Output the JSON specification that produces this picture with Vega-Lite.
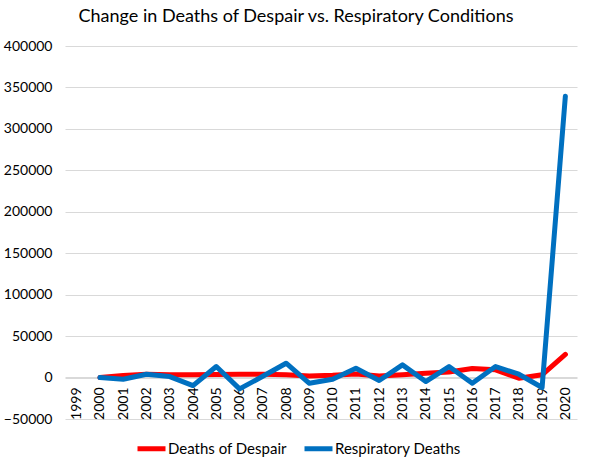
{
  "$schema": "https://vega.github.io/schema/vega-lite/v6.json",
  "autosize": {"type": "none"},
  "width": 512,
  "height": 373,
  "padding": {"left": 65, "top": 46, "right": 14, "bottom": 44},
  "background": "white",
  "title": {
    "text": "Change in Deaths of Despair vs. Respiratory Conditions",
    "font": "Lato",
    "fontSize": 18,
    "fontWeight": "normal",
    "color": "black",
    "anchor": "middle",
    "dx": -25,
    "offset": 13
  },
  "config": {
    "view": {"stroke": null},
    "axis": {"labelFont": "Lato", "labelFontSize": 14, "labelColor": "black"}
  },
  "data": {
    "values": [
      {"year": "2000", "series": "Deaths of Despair", "value": 0},
      {"year": "2001", "series": "Deaths of Despair", "value": 2400},
      {"year": "2002", "series": "Deaths of Despair", "value": 4000},
      {"year": "2003", "series": "Deaths of Despair", "value": 3300},
      {"year": "2004", "series": "Deaths of Despair", "value": 3300},
      {"year": "2005", "series": "Deaths of Despair", "value": 3600},
      {"year": "2006", "series": "Deaths of Despair", "value": 4000},
      {"year": "2007", "series": "Deaths of Despair", "value": 4000},
      {"year": "2008", "series": "Deaths of Despair", "value": 3300},
      {"year": "2009", "series": "Deaths of Despair", "value": 2000},
      {"year": "2010", "series": "Deaths of Despair", "value": 2800},
      {"year": "2011", "series": "Deaths of Despair", "value": 4400},
      {"year": "2012", "series": "Deaths of Despair", "value": 2000},
      {"year": "2013", "series": "Deaths of Despair", "value": 3300},
      {"year": "2014", "series": "Deaths of Despair", "value": 5200},
      {"year": "2015", "series": "Deaths of Despair", "value": 6800},
      {"year": "2016", "series": "Deaths of Despair", "value": 10900},
      {"year": "2017", "series": "Deaths of Despair", "value": 9300},
      {"year": "2018", "series": "Deaths of Despair", "value": -800},
      {"year": "2019", "series": "Deaths of Despair", "value": 3300},
      {"year": "2020", "series": "Deaths of Despair", "value": 28000},
      {"year": "2000", "series": "Respiratory Deaths", "value": 0},
      {"year": "2001", "series": "Respiratory Deaths", "value": -2000},
      {"year": "2002", "series": "Respiratory Deaths", "value": 4000},
      {"year": "2003", "series": "Respiratory Deaths", "value": 1200},
      {"year": "2004", "series": "Respiratory Deaths", "value": -9700},
      {"year": "2005", "series": "Respiratory Deaths", "value": 13300},
      {"year": "2006", "series": "Respiratory Deaths", "value": -13700},
      {"year": "2007", "series": "Respiratory Deaths", "value": 1500},
      {"year": "2008", "series": "Respiratory Deaths", "value": 17300},
      {"year": "2009", "series": "Respiratory Deaths", "value": -6900},
      {"year": "2010", "series": "Respiratory Deaths", "value": -2000},
      {"year": "2011", "series": "Respiratory Deaths", "value": 11300},
      {"year": "2012", "series": "Respiratory Deaths", "value": -3600},
      {"year": "2013", "series": "Respiratory Deaths", "value": 15300},
      {"year": "2014", "series": "Respiratory Deaths", "value": -4800},
      {"year": "2015", "series": "Respiratory Deaths", "value": 13300},
      {"year": "2016", "series": "Respiratory Deaths", "value": -6900},
      {"year": "2017", "series": "Respiratory Deaths", "value": 13300},
      {"year": "2018", "series": "Respiratory Deaths", "value": 4000},
      {"year": "2019", "series": "Respiratory Deaths", "value": -12000},
      {"year": "2020", "series": "Respiratory Deaths", "value": 339500}
    ]
  },
  "mark": {"type": "line", "strokeWidth": 5, "strokeCap": "round", "strokeJoin": "round"},
  "encoding": {
    "x": {
      "field": "year",
      "type": "ordinal",
      "title": null,
      "scale": {
        "type": "point",
        "padding": 0.5,
        "domain": ["1999", "2000", "2001", "2002", "2003", "2004", "2005", "2006", "2007", "2008", "2009", "2010", "2011", "2012", "2013", "2014", "2015", "2016", "2017", "2018", "2019", "2020"]
      },
      "axis": {
        "offset": -42,
        "labelAngle": -90,
        "labelPadding": 10,
        "ticks": false,
        "domainColor": "#d9d9d9",
        "domainWidth": 1,
        "grid": false
      }
    },
    "y": {
      "field": "value",
      "type": "quantitative",
      "title": null,
      "scale": {"domain": [-50000, 400000], "nice": false, "zero": false},
      "axis": {
        "values": [-50000, 0, 50000, 100000, 150000, 200000, 250000, 300000, 350000, 400000],
        "format": "d",
        "domain": false,
        "ticks": false,
        "labelPadding": 13,
        "gridColor": "#d9d9d9",
        "gridWidth": 1
      }
    },
    "color": {
      "field": "series",
      "type": "nominal",
      "scale": {"domain": ["Deaths of Despair", "Respiratory Deaths"], "range": ["#ff0000", "#0070c0"]},
      "legend": {
        "title": null,
        "orient": "none",
        "legendX": 70,
        "legendY": 386,
        "direction": "horizontal",
        "symbolType": "stroke",
        "symbolStrokeWidth": 5,
        "symbolSize": 784,
        "labelFont": "Lato",
        "labelFontSize": 15,
        "labelColor": "black",
        "columnPadding": 7,
        "labelOffset": 0
      }
    }
  }
}
